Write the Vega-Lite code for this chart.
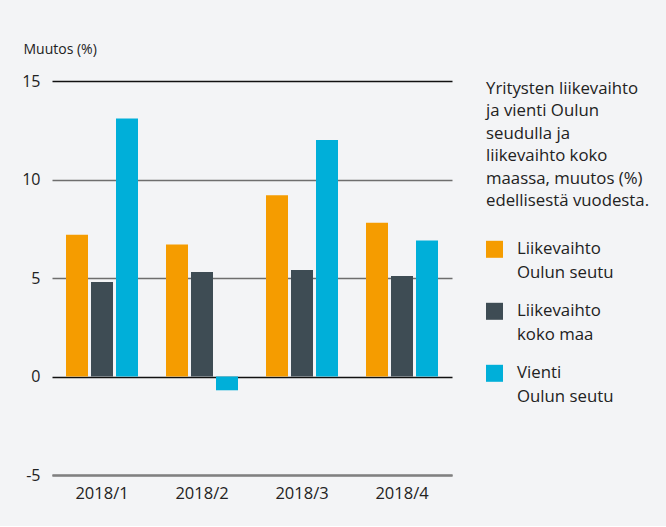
{
  "$schema": "https://vega.github.io/schema/vega-lite/v6.json",
  "width": 400,
  "height": 394,
  "padding": {"left": 21, "top": 42, "right": 16, "bottom": 24},
  "autosize": {"type": "pad"},
  "background": "#f3f4f6",
  "config": {
    "font": "Open Sans",
    "view": {"stroke": null},
    "style": {"guide-label": {"lineHeight": 24}},
    "axis": {"labelFont": "Open Sans", "titleFont": "Open Sans", "labelColor": "#222222", "titleColor": "#222222"},
    "legend": {"labelFont": "Open Sans", "titleFont": "Open Sans"}
  },
  "data": {
    "values": [
      {"q": "2018/1", "s": "Liikevaihto|Oulun seutu", "v": 7.2},
      {"q": "2018/1", "s": "Liikevaihto|koko maa", "v": 4.8},
      {"q": "2018/1", "s": "Vienti|Oulun seutu", "v": 13.1},
      {"q": "2018/2", "s": "Liikevaihto|Oulun seutu", "v": 6.7},
      {"q": "2018/2", "s": "Liikevaihto|koko maa", "v": 5.3},
      {"q": "2018/2", "s": "Vienti|Oulun seutu", "v": -0.7},
      {"q": "2018/3", "s": "Liikevaihto|Oulun seutu", "v": 9.2},
      {"q": "2018/3", "s": "Liikevaihto|koko maa", "v": 5.4},
      {"q": "2018/3", "s": "Vienti|Oulun seutu", "v": 12.0},
      {"q": "2018/4", "s": "Liikevaihto|Oulun seutu", "v": 7.8},
      {"q": "2018/4", "s": "Liikevaihto|koko maa", "v": 5.1},
      {"q": "2018/4", "s": "Vienti|Oulun seutu", "v": 6.9}
    ]
  },
  "mark": {"type": "bar"},
  "encoding": {
    "x": {
      "field": "q",
      "type": "nominal",
      "scale": {"paddingInner": 0.28, "paddingOuter": 0.14},
      "axis": {
        "title": null,
        "labelAngle": 0,
        "labelFontSize": 16.5,
        "labelPadding": 10,
        "ticks": false,
        "domain": true,
        "domainColor": "#808080",
        "domainWidth": 2
      }
    },
    "xOffset": {
      "field": "s",
      "type": "nominal",
      "scale": {"paddingInner": 0.12, "paddingOuter": 0},
      "sort": ["Liikevaihto|Oulun seutu", "Liikevaihto|koko maa", "Vienti|Oulun seutu"]
    },
    "y": {
      "field": "v",
      "type": "quantitative",
      "scale": {"domain": [-5, 15], "nice": false},
      "axis": {
        "title": "Muutos (%)",
        "titleAngle": 0,
        "titleAlign": "left",
        "titleBaseline": "alphabetic",
        "titleX": -29,
        "titleY": -28,
        "titleFontSize": 14,
        "titleFontWeight": "normal",
        "values": [-5, 0, 5, 10, 15],
        "labelExpr": "replace(datum.label, '−', '-')",
        "labelFontSize": 16,
        "labelPadding": 12,
        "ticks": false,
        "domain": false,
        "grid": true,
        "gridColor": {"condition": {"test": "datum.value === 0 || datum.value === 15", "value": "#111111"}, "value": "#6e6e6e"},
        "gridWidth": {"condition": {"test": "datum.value === -5", "value": 2}, "value": 1.5},
        "gridOpacity": 1
      }
    },
    "color": {
      "field": "s",
      "type": "nominal",
      "sort": ["Liikevaihto|Oulun seutu", "Liikevaihto|koko maa", "Vienti|Oulun seutu"],
      "scale": {"range": ["#f59c00", "#3e4c54", "#00afd9"]},
      "legend": {
        "orient": "right",
        "offset": 34,
        "title": ["Yritysten liikevaihto", "ja vienti Oulun", "seudulla ja", "liikevaihto koko", "maassa, muutos (%)", "edellisestä vuodesta."],
        "titleFontSize": 16.8,
        "titleFontWeight": "normal",
        "titleColor": "#222222",
        "titleLineHeight": 22.4,
        "titlePadding": 31,
        "labelExpr": "split(datum.label, '|')",
        "labelFontSize": 16.8,
        "labelColor": "#222222",
        "labelBaseline": "middle",
        "labelOffset": 14,
        "symbolType": "square",
        "symbolSize": 289,
        "symbolStrokeWidth": 0,
        "rowPadding": 20
      }
    }
  }
}
